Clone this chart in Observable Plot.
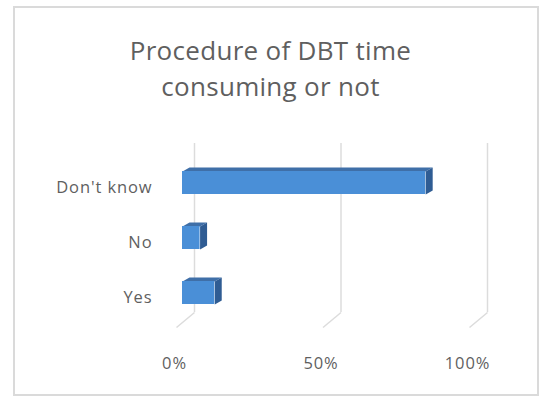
<!DOCTYPE html>
<html>
<head>
<meta charset="utf-8">
<script src="https://cdn.jsdelivr.net/npm/d3@7"></script>
<script src="https://cdn.jsdelivr.net/npm/@observablehq/plot@0.6"></script>
<style>
  html, body { margin: 0; padding: 0; background: #fff; }
  #frame {
    position: absolute; left: 13px; top: 6px; width: 526px; height: 390px;
    box-sizing: border-box; border: 2px solid #dadada; background: #fff;
  }
  #title {
    position: absolute; left: 0; top: 32px; width: 541px; text-align: center;
    font-family: "Open Sans", sans-serif; font-size: 26px; line-height: 36px;
    letter-spacing: 0.3px; color: #5f5f5f;
  }
  #chart { position: absolute; left: 15px; top: 120px; }
</style>
</head>
<body>
<div id="frame"></div>
<div id="title">Procedure of DBT time<br>consuming or not</div>
<div id="chart"></div>
<script>
// Answers, bottom to top, and their shares
const categories = ["Yes", "No", "Don't know"];
const shares = [0.11, 0.06, 0.83];
const tickValues = [0, 0.5, 1];
const tickLabels = ["0%", "50%", "100%"];

// Scale setup (front plane of the bars)
const X_DOMAIN = [0, 1], X_RANGE = [167, 460];
const Y_DOMAIN = [0, 2], Y_RANGE = [172.5, 62.5];
const pxX = (X_DOMAIN[1] - X_DOMAIN[0]) / (X_RANGE[1] - X_RANGE[0]);
const pxY = (Y_DOMAIN[1] - Y_DOMAIN[0]) / (Y_RANGE[1] - Y_RANGE[0]);
const yAt = (py) => Y_DOMAIN[0] + (py - Y_RANGE[0]) * pxY;

// 3-D look: bar half height, depth offset, wall depth
const half = 11.5 * -pxY;
const depthX = 7 * pxX, depthY = 4 * -pxY;
const wallX = 12 * pxX, floorX = -6 * pxX;

const rows = categories.map((c, i) => ({category: c, i, v: shares[i]}));

// Top and side faces as closed polygons
const topFaces = rows.flatMap((d) => [
  {k: d.category, x: 0, y: d.i + half},
  {k: d.category, x: d.v, y: d.i + half},
  {k: d.category, x: d.v + depthX, y: d.i + half + depthY},
  {k: d.category, x: depthX, y: d.i + half + depthY}
]);
const sideFaces = rows.flatMap((d) => [
  {k: d.category, x: d.v, y: d.i + half},
  {k: d.category, x: d.v + depthX, y: d.i + half + depthY},
  {k: d.category, x: d.v + depthX, y: d.i - half + depthY},
  {k: d.category, x: d.v, y: d.i - half}
]);

const gridTop = yAt(23), gridBottom = yAt(192), gridFoot = yAt(207);

const chart = Plot.plot({
  width: 523,
  height: 275,
  x: {domain: X_DOMAIN, range: X_RANGE, axis: null},
  y: {domain: Y_DOMAIN, range: Y_RANGE, axis: null},
  style: {fontFamily: "Open Sans, sans-serif", background: "transparent", letterSpacing: "0.9px"},
  marks: [
    // back wall gridlines and their slant across the floor
    Plot.ruleX(tickValues, {x: (d) => d + wallX, y1: () => gridTop, y2: () => gridBottom, stroke: "#dcdcdc", strokeWidth: 1.5}),
    Plot.link(tickValues, {x1: (d) => d + wallX, x2: (d) => d + floorX, y1: () => gridBottom, y2: () => gridFoot, stroke: "#dcdcdc", strokeWidth: 1.5}),
    // bars
    Plot.line(topFaces, {x: "x", y: "y", z: "k", curve: "linear-closed", fill: "#3f6fa8", stroke: "none"}),
    Plot.line(sideFaces, {x: "x", y: "y", z: "k", curve: "linear-closed", fill: "#2f5c93", stroke: "none"}),
    Plot.rect(rows, {x1: () => 0, x2: "v", y1: (d) => d.i - half, y2: (d) => d.i + half, fill: "#4a8fd7"}),
    // category labels
    Plot.text(rows, {x: () => 0, y: "i", text: "category", textAnchor: "end", dx: -30, dy: 5, fontSize: 16.5, fill: "#5f5f5f"}),
    // percentage tick labels
    Plot.text(tickValues, {x: (d) => d, y: () => yAt(243), text: (d, i) => tickLabels[i], dx: -8, fontSize: 16.5, fill: "#5f5f5f"})
  ]
});
document.getElementById("chart").append(chart);
</script>
</body>
</html>
